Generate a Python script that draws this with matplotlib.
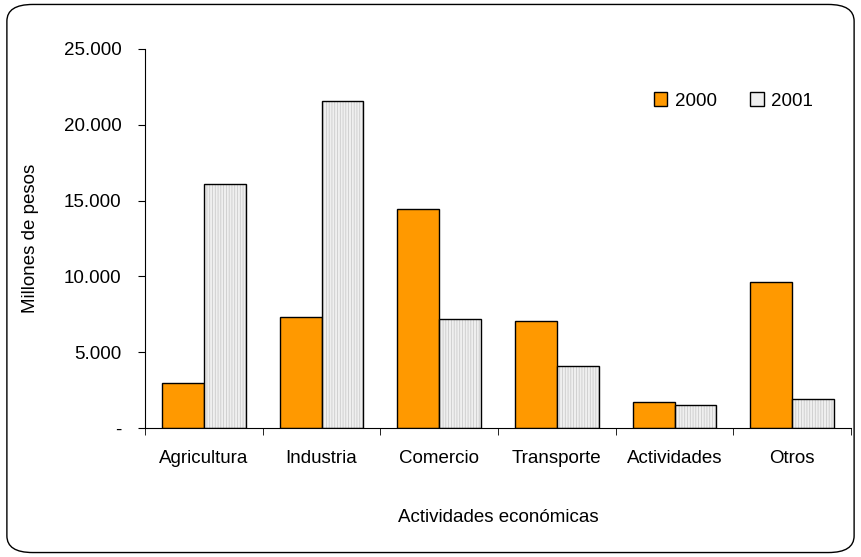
import matplotlib
matplotlib.use("Agg")
import matplotlib.pyplot as plt
from matplotlib.patches import FancyBboxPatch
import numpy as np

categories = ["Agricultura", "Industria", "Comercio", "Transporte", "Actividades", "Otros"]
v2000 = [3000, 7300, 14450, 7050, 1700, 9650]
v2001 = [16100, 21600, 7200, 4100, 1500, 1900]
yticks = [0, 5000, 10000, 15000, 20000, 25000]
ylabels = ["-", "5.000", "10.000", "15.000", "20.000", "25.000"]

plt.rcParams['font.family'] = ['Liberation Sans', 'DejaVu Sans']
plt.rcParams['hatch.linewidth'] = 0.5
fs = 13.5
fig = plt.figure(figsize=(8.61, 5.57), dpi=100)
fig.patches.append(FancyBboxPatch((0.008, 0.008), 0.984, 0.984, boxstyle="round,pad=0,rounding_size=0.03",
                                  transform=fig.transFigure, fill=False, ec='black', lw=1))
ax = fig.add_axes([145/861, 1-428/557, (851-145)/861, 379/557])
x = np.arange(len(categories))
w = 0.355
ax.bar(x - w/2, v2000, w, color='#ff9900', edgecolor='black', lw=1, label='2000')
ax.bar(x + w/2, v2001, w, color='#efefef', edgecolor='#c4c4c4', lw=0, hatch='||||||')
ax.bar(x + w/2, v2001, w, color='none', edgecolor='black', lw=1)
ax.bar([0], [0], 0, color='#efefef', edgecolor='black', lw=1, label='2001')
ax.set_xlim(-0.5, len(categories) - 0.5)
ax.set_ylim(0, 25000)
ax.set_yticks(yticks, ylabels, fontsize=fs)
ax.set_xticks(x, categories, fontsize=fs)
ax.set_xticks(np.arange(len(categories) + 1) - 0.5, minor=True)
ax.tick_params(axis='x', which='major', length=0, pad=16)
ax.tick_params(axis='x', which='minor', length=5, direction='out')
ax.tick_params(axis='y', length=5, direction='out', pad=12)
for s in ['top', 'right']:
    ax.spines[s].set_visible(False)
ax.set_ylabel("Millones de pesos", fontsize=fs)
ax.yaxis.set_label_coords(-0.15, 0.5)
ax.set_xlabel("Actividades económicas", fontsize=fs, labelpad=30)
ax.legend(loc='upper right', bbox_to_anchor=(0.97, 0.93), ncol=2, frameon=False, fontsize=fs,
          handlelength=0.7, handleheight=0.7, columnspacing=1.8, handletextpad=0.4)
fig.savefig("out.png", dpi=100)
